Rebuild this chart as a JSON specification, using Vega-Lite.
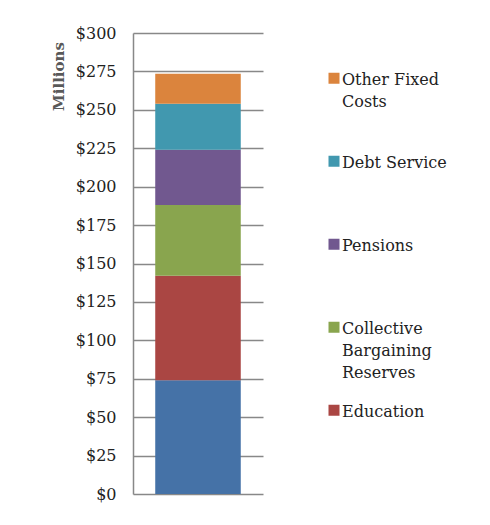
{
  "$schema": "https://vega.github.io/schema/vega-lite/v6.json",
  "width": 130,
  "height": 461,
  "autosize": {"type": "none"},
  "padding": {"left": 133, "top": 33, "right": 227, "bottom": 31},
  "data": {
    "values": [
      {"budget": "Budget", "category": "Base Budget", "amount": 74, "order": 1},
      {"budget": "Budget", "category": "Education", "amount": 68, "order": 2},
      {"budget": "Budget", "category": "Collective Bargaining Reserves", "amount": 46, "order": 3},
      {"budget": "Budget", "category": "Pensions", "amount": 36, "order": 4},
      {"budget": "Budget", "category": "Debt Service", "amount": 30, "order": 5},
      {"budget": "Budget", "category": "Other Fixed Costs", "amount": 19.5, "order": 6}
    ]
  },
  "mark": {"type": "bar"},
  "encoding": {
    "x": {
      "field": "budget",
      "type": "nominal",
      "axis": null,
      "scale": {"paddingInner": 0, "paddingOuter": 0.26}
    },
    "y": {
      "field": "amount",
      "type": "quantitative",
      "stack": "zero",
      "scale": {"domain": [0, 300], "nice": false},
      "axis": {
        "values": [0, 25, 50, 75, 100, 125, 150, 175, 200, 225, 250, 275, 300],
        "labelExpr": "'$' + datum.label",
        "labelFont": "DejaVu Serif",
        "labelFontSize": 16,
        "labelColor": "#222222",
        "labelPadding": 17,
        "ticks": false,
        "grid": true,
        "gridColor": "#888888",
        "gridWidth": 1.5,
        "domain": true,
        "domainColor": "#888888",
        "domainWidth": 1.5,
        "title": "Millions",
        "titleFont": "DejaVu Serif",
        "titleFontSize": 15,
        "titleFontWeight": "bold",
        "titleColor": "#595959",
        "titleAngle": 270,
        "titleX": -75,
        "titleY": 43,
        "titleAlign": "center",
        "titleBaseline": "middle"
      }
    },
    "color": {
      "field": "category",
      "type": "nominal",
      "scale": {
        "domain": ["Other Fixed Costs", "Debt Service", "Pensions", "Collective Bargaining Reserves", "Education", "Base Budget"],
        "range": ["#DB843D", "#4198AF", "#71588F", "#89A54E", "#AA4643", "#4572A7"]
      },
      "legend": {
        "title": null,
        "orient": "none",
        "legendX": 193,
        "legendY": 17,
        "padding": 0,
        "values": ["Other Fixed Costs", "Debt Service", "Pensions", "Collective Bargaining Reserves", "Education"],
        "symbolType": "M-1,0.1H1V2.1H-1Z",
        "symbolSize": 121,
        "symbolStrokeWidth": 0,
        "labelOffset": 0,
        "rowPadding": 0,
        "clipHeight": 44.5,
        "labelBaseline": "top",
        "labelFont": "DejaVu Serif",
        "labelFontSize": 16,
        "labelColor": "#222222",
        "labelLimit": 200,
        "labelExpr": "datum.label == 'Other Fixed Costs' ? ['Other Fixed', 'Costs', ''] : datum.label == 'Collective Bargaining Reserves' ? ['Collective', 'Bargaining', 'Reserves'] : [datum.label, '', '']"
      }
    },
    "order": {"field": "order", "type": "quantitative"}
  },
  "config": {
    "view": {"stroke": null},
    "style": {"guide-label": {"lineHeight": 22}}
  }
}
